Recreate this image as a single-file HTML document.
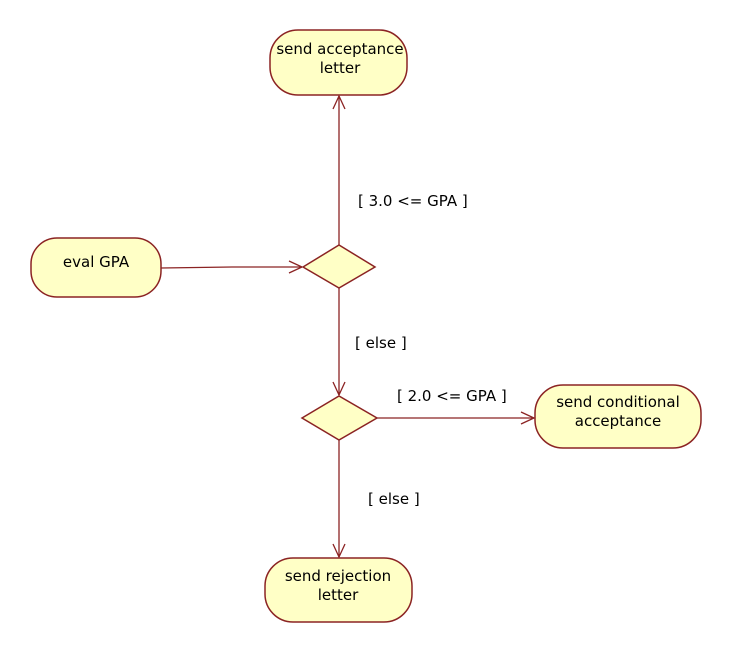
<!DOCTYPE html>
<html><head><style>body{margin:0;background:#fff}svg{display:block}text{font-family:"DejaVu Sans","Liberation Sans",sans-serif;font-size:15px;fill:#000}</style></head><body>
<svg width="732" height="654" viewBox="0 0 732 654">
<g fill="#ffffc6" stroke="#8b2323" stroke-width="1.5">
<rect x="270" y="30" width="137" height="65" rx="28"/>
<rect x="31" y="238" width="130" height="59" rx="26"/>
<rect x="535" y="385" width="166" height="63" rx="28"/>
<rect x="265" y="558" width="147" height="64" rx="28"/>
<polygon points="303,267 339,245 375,267 339,288"/>
<polygon points="302,418 339,396 377,418 339,440"/>
</g>
<g stroke="#8b2323" stroke-width="1.3" fill="none">
<line x1="339" y1="245" x2="339" y2="96"/><polyline points="333,109 339,96 345,109"/>
<polyline points="161,268 232,267 302,267"/><polyline points="289,261 302,267 289,273"/>
<line x1="339" y1="288" x2="339" y2="395"/><polyline points="333,382 339,395 345,382"/>
<line x1="377" y1="418" x2="534" y2="418"/><polyline points="521,412 534,418 521,424"/>
<line x1="339" y1="440" x2="339" y2="557"/><polyline points="333,544 339,557 345,544"/>
</g>
<text x="340" y="54" text-anchor="middle">send acceptance</text>
<text x="340" y="73" text-anchor="middle">letter</text>
<text x="96" y="267" text-anchor="middle">eval GPA</text>
<text x="618" y="407" text-anchor="middle">send conditional</text>
<text x="618" y="426" text-anchor="middle">acceptance</text>
<text x="338" y="581" text-anchor="middle">send rejection</text>
<text x="338" y="600" text-anchor="middle">letter</text>
<text x="358" y="206">[ 3.0 &lt;= GPA ]</text>
<text x="355" y="348">[ else ]</text>
<text x="397" y="401">[ 2.0 &lt;= GPA ]</text>
<text x="368" y="504">[ else ]</text>
</svg>
</body></html>
